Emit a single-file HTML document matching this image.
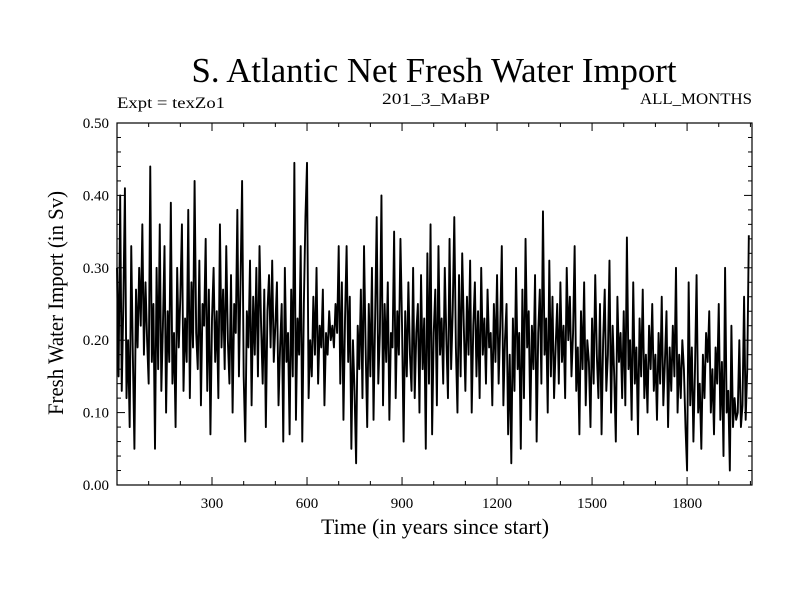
<!DOCTYPE html>
<html><head><meta charset="utf-8"><style>
html,body{margin:0;padding:0;background:#fff}
svg{display:block;font-family:"Liberation Serif",serif}
</style></head><body>
<svg id="chart" width="800" height="600" viewBox="0 0 800 600">
<text x="434" y="82" font-size="35" text-anchor="middle" textLength="485" lengthAdjust="spacingAndGlyphs">S. Atlantic Net Fresh Water Import</text>
<text x="117" y="108" font-size="16" textLength="108" lengthAdjust="spacingAndGlyphs">Expt = texZo1</text>
<text x="436" y="104" font-size="16" text-anchor="middle" textLength="108" lengthAdjust="spacingAndGlyphs">201_3_MaBP</text>
<text x="752" y="104" font-size="16" text-anchor="end" textLength="112" lengthAdjust="spacingAndGlyphs">ALL_MONTHS</text>
<text x="435" y="534" font-size="22" text-anchor="middle" textLength="228" lengthAdjust="spacingAndGlyphs">Time (in years since start)</text>
<text x="0" y="0" font-size="22" text-anchor="middle" transform="translate(63,303) rotate(-90)" textLength="224" lengthAdjust="spacingAndGlyphs">Fresh Water Import (in Sv)</text>
<g id="axes"></g>
<g id="series"></g>
<rect x="117" y="123" width="635" height="362" fill="none" stroke="#000" stroke-width="1.2"/>
</svg>
<script>
const xTickLabels = [300, 600, 900, 1200, 1500, 1800];
const yTickLabels = ["0.00","0.10","0.20","0.30","0.40","0.50"];
const yearStart = 0;
const yearStep = 5;
const importValues = [
.30,.15,.40,.13,.25,.41,.12,.20,.08,.33,.18,.05,.27,.19,.30,.22,.36,.18,.28,.20,
.14,.44,.17,.25,.05,.30,.16,.36,.13,.22,.33,.10,.24,.17,.39,.14,.21,.08,.30,.19,
.26,.36,.13,.23,.17,.38,.12,.28,.19,.42,.21,.16,.31,.11,.25,.22,.34,.13,.27,.07,
.23,.30,.17,.24,.12,.36,.19,.27,.16,.33,.20,.14,.29,.10,.25,.21,.38,.15,.28,.42,
.15,.06,.24,.19,.31,.11,.26,.18,.30,.15,.33,.22,.14,.27,.08,.24,.29,.19,.31,.17,
.22,.28,.11,.19,.25,.06,.30,.17,.21,.07,.27,.15,.445,.09,.23,.18,.33,.06,.25,.37,
.445,.12,.20,.15,.26,.18,.30,.14,.22,.19,.27,.11,.21,.18,.24,.20,.22,.19,.25,.21,
.33,.14,.28,.09,.23,.33,.17,.26,.05,.20,.13,.03,.22,.16,.27,.12,.33,.19,.08,.25,
.15,.30,.09,.23,.37,.14,.21,.40,.11,.25,.17,.28,.09,.21,.19,.35,.12,.24,.18,.34,
.22,.06,.24,.15,.28,.18,.13,.30,.12,.21,.25,.10,.29,.16,.23,.05,.32,.14,.36,.07,
.21,.27,.11,.33,.18,.23,.14,.30,.20,.12,.34,.16,.24,.37,.19,.10,.29,.15,.32,.22,
.13,.26,.18,.31,.10,.22,.28,.15,.24,.12,.30,.18,.23,.14,.27,.19,.21,.11,.25,.17,
.29,.14,.22,.33,.11,.20,.25,.07,.18,.03,.23,.13,.30,.16,.21,.05,.27,.12,.34,.19,
.24,.09,.22,.16,.29,.06,.21,.27,.14,.378,.18,.23,.10,.31,.15,.26,.12,.19,.25,.14,
.28,.17,.22,.12,.30,.20,.26,.15,.21,.33,.13,.19,.07,.24,.16,.28,.11,.20,.17,.08,
.23,.14,.29,.18,.12,.25,.07,.20,.27,.13,.18,.31,.10,.22,.15,.06,.26,.17,.21,.12,
.24,.11,.342,.16,.20,.09,.28,.14,.19,.07,.23,.15,.27,.12,.18,.10,.22,.16,.25,.13,
.18,.09,.21,.14,.26,.11,.17,.24,.08,.19,.13,.22,.15,.30,.10,.18,.12,.20,.16,.08,
.02,.28,.11,.19,.06,.16,.29,.10,.14,.05,.18,.12,.21,.17,.24,.10,.16,.07,.19,.14,
.25,.09,.17,.04,.30,.10,.13,.02,.22,.08,.12,.09,.10,.20,.08,.11,.26,.09,.16,.345
];
const NS = "http://www.w3.org/2000/svg";
const L = 117, R = 752, T = 123, B = 485;
const xMin = 0, xMax = 2005, yMin = 0, yMax = 0.5;
function xs(v){ return L + (v - xMin) / (xMax - xMin) * (R - L); }
function ys(v){ return B - (v - yMin) / (yMax - yMin) * (B - T); }
const axes = document.getElementById('axes');
function line(x1,y1,x2,y2,name){
  const l = document.createElementNS(NS,'line');
  l.setAttribute('x1',x1); l.setAttribute('y1',y1); l.setAttribute('x2',x2); l.setAttribute('y2',y2);
  l.setAttribute('stroke','#000'); l.setAttribute('stroke-width','1');
  
  
  axes.appendChild(l);
}
function text(x,y,s,anchor,name){
  const t = document.createElementNS(NS,'text');
  t.setAttribute('x',x); t.setAttribute('y',y); t.setAttribute('font-size','15');
  t.setAttribute('text-anchor',anchor); t.textContent = s;
  
  
  axes.appendChild(t);
}
for (let v = 100; v < 2005; v += 100) {
  const major = v % 300 === 0, len = major ? 8 : 4, x = xs(v);
  line(x,B,x,B-len,'x-tick');
  line(x,T,x,T+len,'x-tick-top');
}
xTickLabels.forEach(v => text(xs(v), 508, String(v), 'middle', 'x-tick-label'));
for (let i = 1; i < 25; i++) {
  const v = i * 0.02, major = i % 5 === 0, len = major ? 8 : 4, y = ys(v);
  line(L,y,L+len,y,'y-tick');
  line(R,y,R-len,y,'y-tick-right');
}
yTickLabels.forEach(s => text(109, ys(parseFloat(s)) + 5, s, 'end', 'y-tick-label'));
const pts = importValues.map((v,i) => xs(yearStart + i*yearStep).toFixed(2) + ',' + ys(v).toFixed(2)).join(' ');
const pl = document.createElementNS(NS,'polyline');
pl.setAttribute('points', pts);
pl.setAttribute('fill','none'); pl.setAttribute('stroke','#000'); pl.setAttribute('stroke-width','1.9');
pl.setAttribute('stroke-linejoin','round');


document.getElementById('series').appendChild(pl);
</script>
</body></html>
